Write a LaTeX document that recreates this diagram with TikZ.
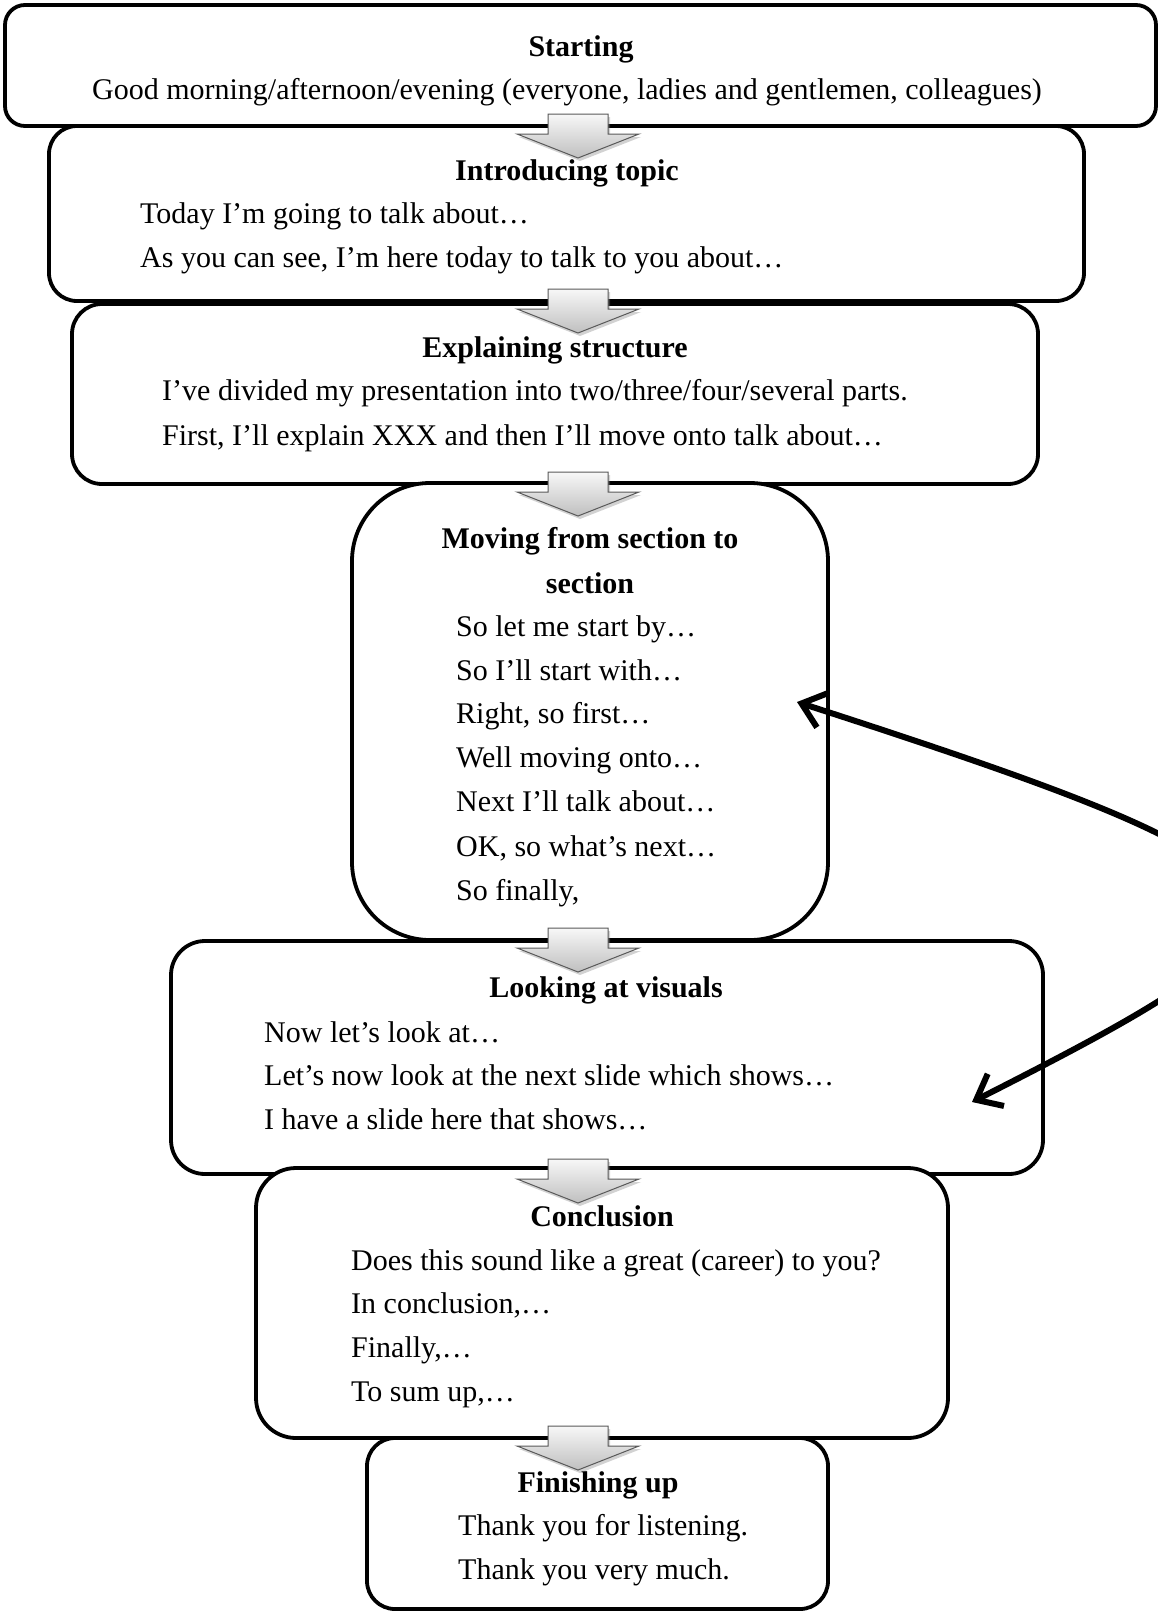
\documentclass[tikz,border=0pt]{standalone}
\usepackage{fontspec}
\setmainfont{Liberation Serif}
\usetikzlibrary{arrows.meta,shadows}
\newcommand{\blockarrow}[2]{%
  \coordinate (#1) at (578,#2);
  \path[grayarrow, shift={(#1)}] (-30,-12) -- (30,-12) -- (30,8) -- (61,8) -- (0,32) -- (-61,8) -- (-30,8) -- cycle;}
\begin{document}
\begin{tikzpicture}[x=1pt,y=-1pt,
  box/.style={draw=black, line width=3.8pt, fill=white, rounded corners=#1, inner sep=0pt},
  box/.default=25pt,
  txt/.style={font=\fontsize{30}{36}\selectfont, inner sep=0pt, text height=21pt, text depth=7pt, yshift=-3.5pt},
  hd/.style={font=\fontsize{30}{36}\selectfont\bfseries, inner sep=0pt, text height=21pt, text depth=7pt, yshift=-3.5pt},
  grayarrow/.style={draw=gray!70!black, line width=1pt, top color=gray!6, bottom color=gray!50,
    drop shadow={opacity=0.35, shadow xshift=2pt, shadow yshift=-3pt}},
  curvearrow/.style={draw=black, line width=6pt, {Straight Barb[length=22pt,width=36pt]}-{Straight Barb[length=22pt,width=36pt]}}
]
\useasboundingbox (0,0) rectangle (1158,1611);
\fill[white] (0,0) rectangle (1158,1611);
% boxes
\node[box=20pt, minimum width=1151pt, minimum height=121pt] (b1) at (580.5,65.5) {};
\node[box=28pt, minimum width=1035pt, minimum height=175pt] (b2) at (566.5,213.5) {};
\node[box=30pt, minimum width=966pt, minimum height=180pt] (b3) at (555,394) {};
\node[box=78pt, minimum width=476pt, minimum height=457pt] (b4) at (590,711.5) {};
\node[box=34pt, minimum width=872pt, minimum height=233pt] (b5) at (607,1057.5) {};
\node[box=40pt, minimum width=692pt, minimum height=270pt] (b6) at (602,1303) {};
\node[box=28pt, minimum width=461pt, minimum height=171pt] (b7) at (597.5,1523.5) {};
% text box 1
\node[hd] (t1h) at (581,46) {Starting};
\node[txt] (t1a) at (567,89) {Good morning/afternoon/evening (everyone, ladies and gentlemen, colleagues)};
% box 2
\node[hd] (t2h) at (567,170) {Introducing topic};
\node[txt, anchor=west] (t2a) at (140,213) {Today I’m going to talk about…};
\node[txt, anchor=west] (t2b) at (140,257) {As you can see, I’m here today to talk to you about…};
% box 3
\node[hd] (t3h) at (555,347) {Explaining structure};
\node[txt, anchor=west] (t3a) at (162,390) {I’ve divided my presentation into two/three/four/several parts.};
\node[txt, anchor=west] (t3b) at (162,435) {First, I’ll explain XXX and then I’ll move onto talk about…};
% box 4
\node[hd] (t4h) at (590,538) {Moving from section to};
\node[hd] (t4i) at (590,583) {section};
\node[txt, anchor=west] (t4a) at (456,626) {So let me start by…};
\node[txt, anchor=west] (t4b) at (456,670) {So I’ll start with…};
\node[txt, anchor=west] (t4c) at (456,713) {Right, so first…};
\node[txt, anchor=west] (t4d) at (456,757) {Well moving onto…};
\node[txt, anchor=west] (t4e) at (456,801) {Next I’ll talk about…};
\node[txt, anchor=west] (t4f) at (456,846) {OK, so what’s next…};
\node[txt, anchor=west] (t4g) at (456,890) {So finally,};
% box 5
\node[hd] (t5h) at (606,987) {Looking at visuals};
\node[txt, anchor=west] (t5a) at (264,1032) {Now let’s look at…};
\node[txt, anchor=west] (t5b) at (264,1075) {Let’s now look at the next slide which shows…};
\node[txt, anchor=west] (t5c) at (264,1119) {I have a slide here that shows…};
% box 6
\node[hd] (t6h) at (602,1216) {Conclusion};
\node[txt, anchor=west] (t6a) at (351,1260) {Does this sound like a great (career) to you?};
\node[txt, anchor=west] (t6b) at (351,1303) {In conclusion,…};
\node[txt, anchor=west] (t6c) at (351,1347) {Finally,…};
\node[txt, anchor=west] (t6d) at (351,1391) {To sum up,…};
% box 7
\node[hd] (t7h) at (598,1482) {Finishing up};
\node[txt, anchor=west] (t7a) at (458,1525) {Thank you for listening.};
\node[txt, anchor=west] (t7b) at (458,1569) {Thank you very much.};
% gray arrows
\blockarrow{a1}{126}
\blockarrow{a2}{301}
\blockarrow{a3}{484}
\blockarrow{a4}{940}
\blockarrow{a5}{1171}
\blockarrow{a6}{1438}
% curved arrow
\coordinate (ctop) at (797,702);
\coordinate (cbot) at (972,1102);
\begin{scope}
\clip (0,0) rectangle (1158,1611);
\draw[curvearrow] (ctop) .. controls (1360,884) and (1350,910) .. (cbot);
\end{scope}
\end{tikzpicture}
\end{document}
